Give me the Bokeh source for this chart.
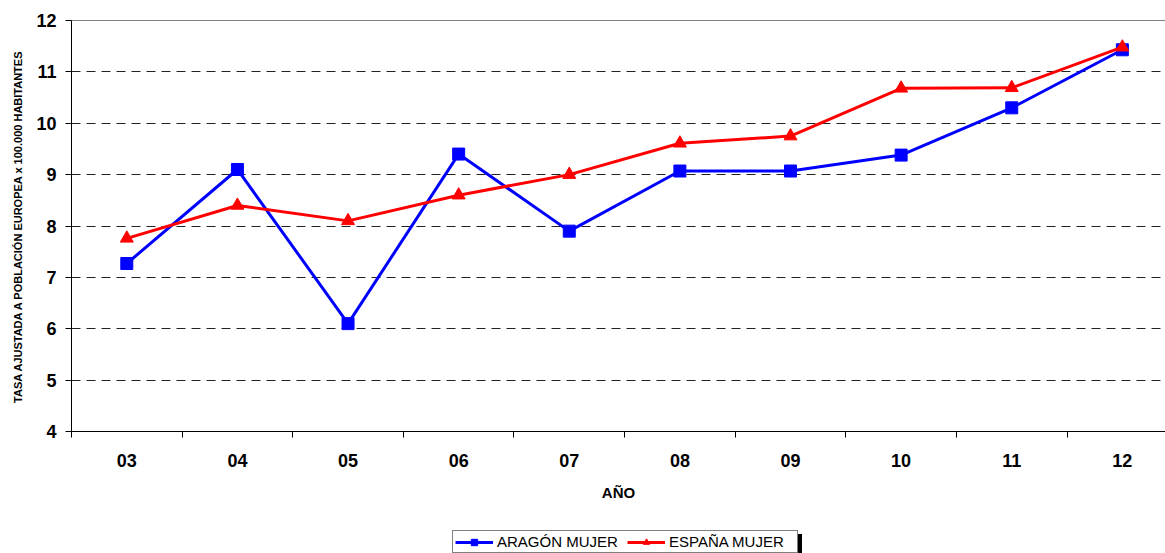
from bokeh.plotting import figure
from bokeh.layouts import column
from bokeh.models import Range1d, FixedTicker, LinearAxis, Legend, LegendItem
from bokeh.embed import file_html
from bokeh.resources import INLINE

years = ["03", "04", "05", "06", "07", "08", "09", "10", "11", "12"]
aragon = [7.27, 9.10, 6.10, 9.40, 7.90, 9.07, 9.07, 9.38, 10.30, 11.43]
espana = [7.76, 8.40, 8.10, 8.60, 9.00, 9.61, 9.75, 10.68, 10.69, 11.48]
y_ticks = [4, 5, 6, 7, 8, 9, 10, 11, 12]
series_names = ["ARAGÓN MUJER", "ESPAÑA MUJER"]

FONT = "Liberation Sans"
BLUE, RED = "#0000FF", "#FF0000"
xs = [i + 0.5 for i in range(len(years))]

p = figure(width=1165, height=523, output_backend="svg", toolbar_location=None,
           x_range=Range1d(0, 9.89), y_range=Range1d(4, 12),
           min_border_left=71, min_border_right=0, min_border_top=20, min_border_bottom=92,
           outline_line_color=None)

# x axis: labels centred in categories, ticks on category boundaries
xa = p.xaxis[0]
xa.ticker = FixedTicker(ticks=xs, minor_ticks=list(range(len(years) + 1)))
xa.major_label_overrides = {x: y for x, y in zip(xs, years)}
xa.major_tick_out = 0
xa.major_tick_in = 0
xa.minor_tick_out = 6
xa.minor_tick_in = 0
xa.minor_tick_line_color = "black"
xa.axis_line_color = "black"
xa.major_label_standoff = 16
xa.major_label_text_font = FONT
xa.major_label_text_font_style = "bold"
xa.major_label_text_font_size = "18px"
xa.major_label_text_color = "black"
xa.axis_label = "AÑO"
xa.axis_label_text_font = FONT
xa.axis_label_text_font_style = "bold"
xa.axis_label_text_font_size = "15px"
xa.axis_label_text_color = "black"
xa.axis_label_standoff = 14

ya = p.yaxis[0]
ya.ticker = FixedTicker(ticks=y_ticks, minor_ticks=[])
ya.major_tick_out = 6
ya.major_tick_in = 0
ya.minor_tick_out = 0
ya.minor_tick_in = 0
ya.axis_line_color = "black"
ya.major_tick_line_color = "black"
ya.major_label_standoff = 9
ya.major_label_text_font = FONT
ya.major_label_text_font_style = "bold"
ya.major_label_text_font_size = "18px"
ya.major_label_text_color = "black"
ya.axis_label = "TASA AJUSTADA A POBLACIÓN EUROPEA x 100.000 HABITANTES"
ya.axis_label_text_font = FONT
ya.axis_label_text_font_style = "bold"
ya.axis_label_text_font_size = "11px"
ya.axis_label_text_color = "black"
ya.axis_label_standoff = 9

top = LinearAxis(ticker=FixedTicker(ticks=[]), major_label_text_font_size="0px",
                 axis_line_color="#808080", major_tick_line_color=None, minor_tick_line_color=None)
p.add_layout(top, "above")

p.xgrid.grid_line_color = None
p.ygrid.ticker = FixedTicker(ticks=y_ticks[1:-1])
p.ygrid.grid_line_color = "#222222"
p.ygrid.grid_line_dash = "9 6"
p.ygrid.grid_line_width = 1

# series
p.line(xs, aragon, line_color=BLUE, line_width=3)
p.scatter(xs, aragon, marker="square", size=12, fill_color=BLUE, line_color=BLUE)
p.line(xs, espana, line_color=RED, line_width=3)
p.scatter(xs, espana, marker="triangle", size=13, fill_color=RED, line_color=RED)

# legend strip below the chart; its data lie outside this strip's ranges,
# so only the legend keys show
lg = figure(width=1165, height=30, output_backend="svg", toolbar_location=None,
            x_range=Range1d(0, 1), y_range=Range1d(0, 1),
            min_border_left=0, min_border_right=0, min_border_top=0, min_border_bottom=0,
            outline_line_color=None)
lg.axis.visible = False
lg.grid.visible = False
kl1 = lg.line(xs, aragon, line_color=BLUE, line_width=3)
ks1 = lg.scatter(xs, aragon, marker="square", size=9, fill_color=BLUE, line_color=BLUE)
kl2 = lg.line(xs, espana, line_color=RED, line_width=3)
ks2 = lg.scatter(xs, espana, marker="triangle", size=10, fill_color=RED, line_color=RED)

common = dict(orientation="horizontal", label_text_font=FONT, label_text_font_size="15px",
              label_text_color="black", glyph_width=38, glyph_height=16, label_standoff=4,
              spacing=4, padding=2, margin=0, label_height=16, label_width=126,
              background_fill_alpha=1)

# drop shadow of the legend box (same size, offset, no text)
shadow = Legend(items=[LegendItem(label=" ", renderers=[kl1]),
                       LegendItem(label=" ", renderers=[kl2])],
                location=(385, -3), border_line_color="black", border_line_width=1,
                background_fill_color="black", **common)
legend = Legend(items=[LegendItem(label=series_names[0], renderers=[kl1, ks1]),
                       LegendItem(label=series_names[1], renderers=[kl2, ks2])],
                location=(381, 0), border_line_color="black", border_line_width=1,
                background_fill_color="white", **common)
lg.add_layout(shadow, "center")
lg.add_layout(legend, "center")

open("out.html", "w").write(file_html(column(p, lg, spacing=0), INLINE))
